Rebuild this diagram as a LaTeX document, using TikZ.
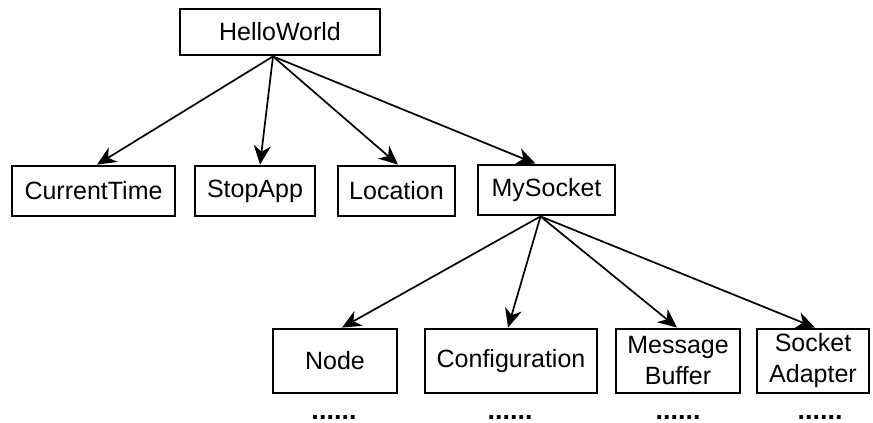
\documentclass[tikz,border=0pt]{standalone}
\usepackage{fontspec}
\setmainfont{Liberation Sans}
\usetikzlibrary{arrows.meta}
\begin{document}
\begin{tikzpicture}[x=1pt,y=-1pt,
  box/.style={draw, line width=2.8pt, inner sep=0pt, align=center,
    font=\fontsize{25}{31}\selectfont},
  link/.style={line width=1.7pt, -{Stealth[length=19pt,width=17pt,inset=6pt]}},
  more/.style={anchor=base, inner sep=0pt, font=\bfseries\fontsize{27}{30}\selectfont}]
\useasboundingbox (0,0) rectangle (873,423);

% root
\node[box, minimum width=200pt, minimum height=46pt] (hw) at (280,32) {HelloWorld};

% second level
\node[box, minimum width=163pt, minimum height=50pt] (ct) at (93.5,191) {CurrentTime};
\node[box, minimum width=120pt, minimum height=50pt] (sp) at (255,191) {StopApp};
\node[box, minimum width=117pt, minimum height=50pt] (lo) at (396.5,191) {Location};
\node[box, minimum width=137pt, minimum height=50pt] (ms) at (546.5,190) {MySocket};

% third level
\node[box, minimum width=124pt, minimum height=64pt] (nd) at (335,361) {Node};
\node[box, minimum width=172pt, minimum height=64pt] (cf) at (511,361) {Configuration};
\node[box, minimum width=124pt, minimum height=64pt] (mb) at (678,361) {Message\\Buffer};
\node[box, minimum width=112pt, minimum height=64pt] (sa) at (813,361) {Socket\\Adapter};

% continuation marks
\node[more] (ndm) at (334,419) {......};
\node[more] (cfm) at (510,419) {......};
\node[more] (mbm) at (678,419) {......};
\node[more] (sam) at (820,419) {......};

% fan-out points
\coordinate (hwout) at ([xshift=-7pt]hw.south);
\coordinate (msout) at ([xshift=-6pt]ms.south);

\draw[link] (hwout) -- ([xshift=3.5pt]ct.north);
\draw[link] (hwout) -- ([xshift=5pt]sp.north);
\draw[link] (hwout) -- ([xshift=1.5pt]lo.north);
\draw[link] (hwout) -- ([xshift=-11pt]ms.north);

\draw[link] (msout) -- ([xshift=7pt]nd.north);
\draw[link] (msout) -- ([xshift=-3pt]cf.north);
\draw[link] (msout) -- ([xshift=-1pt]mb.north);
\draw[link] (msout) -- ([xshift=2pt]sa.north);
\end{tikzpicture}
\end{document}
